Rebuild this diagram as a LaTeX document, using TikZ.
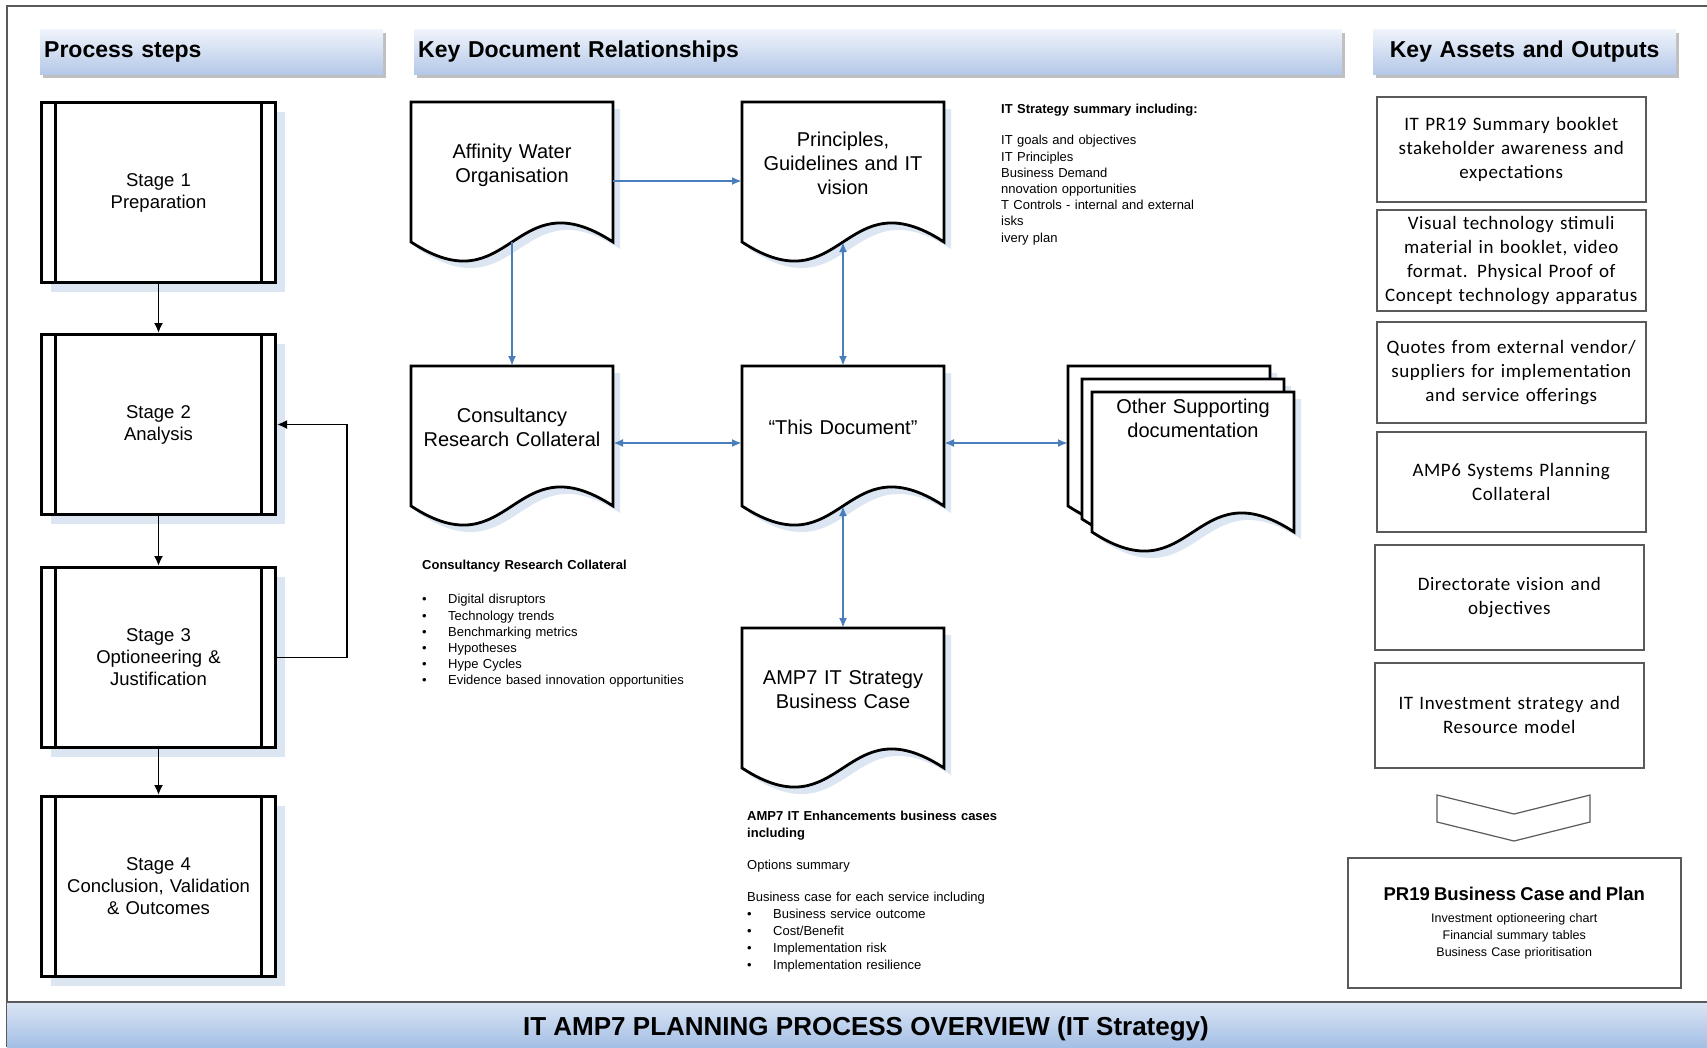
\documentclass[tikz,border=0pt]{standalone}
\usepackage{fontspec}
\setmainfont{Liberation Sans}
\newfontfamily\calibrifont[LetterSpace=3]{Carlito}
\usepackage{tikz}
\usetikzlibrary{positioning,arrows.meta,backgrounds}

\definecolor{linkblue}{HTML}{4A7EBB}
\definecolor{shadeblue}{HTML}{DCE6F2}
\definecolor{bartop}{HTML}{F0F4FB}
\definecolor{barbottom}{HTML}{B4C8E8}
\definecolor{bannertop}{HTML}{DAE5F4}
\definecolor{bannerbottom}{HTML}{A4BFE5}
\definecolor{edgegray}{HTML}{5A5A5A}

\tikzset{
  headbar/.style={anchor=north west, minimum height=45pt, inner xsep=4pt, align=left,
    top color=bartop, bottom color=barbottom, font=\bfseries\fontsize{23pt}{26pt}\selectfont,
    preaction={fill=black!25, transform canvas={shift={(3pt,-4pt)}}}},
  stagebox/.style={anchor=north west, draw, line width=3pt, fill=white, minimum width=234pt,
    minimum height=180pt, inner sep=0pt, text width=200pt, align=center,
    font=\fontsize{18.5pt}{22pt}\selectfont,
    preaction={fill=shadeblue, transform canvas={shift={(9pt,-9pt)}}},
    path picture={\draw[line width=3pt]
      ([xshift=14pt]path picture bounding box.north west) -- ([xshift=14pt]path picture bounding box.south west)
      ([xshift=-14pt]path picture bounding box.north east) -- ([xshift=-14pt]path picture bounding box.south east);}},
  docbox/.style={anchor=north west, minimum width=202pt, minimum height=140pt, inner sep=0pt,
    outer sep=0pt, text width=196pt, align=center, font=\fontsize{20pt}{24pt}\selectfont},
  assetbox/.style={anchor=north west, draw=edgegray, line width=1.5pt, minimum width=269pt,
    inner sep=3pt, text width=262pt, align=center, font=\calibrifont\fontsize{19pt}{24pt}\selectfont},
  planbox/.style={anchor=north west, draw=edgegray, line width=1.5pt, minimum width=333pt,
    minimum height=130pt, inner sep=3pt, text width=326pt, align=center,
    font=\fontsize{12.5pt}{17pt}\selectfont},
  note/.style={anchor=north west, inner sep=0pt, text width=300pt, align=left,
    font=\fontsize{13pt}{16.2pt}\selectfont},
  flow/.style={black, line width=1.8pt, -{Latex[length=10pt,width=9pt]}},
  link/.style={linkblue, line width=2pt, -{Latex[length=10pt,width=8pt]}},
  twoway/.style={link, {Latex[length=10pt,width=8pt]}-{Latex[length=10pt,width=8pt]}}
}

% pushes the text of a sheet upwards
\newcommand{\docdrop}[1]{\rule[-#1]{0pt}{#1}}
% sheet with a wavy lower edge, behind the node text
\newcommand{\docsheet}[1]{%
  \begin{pgfonlayer}{background}
    \fill[shadeblue, transform canvas={shift={(7pt,-7pt)}}] (#1.south west) -- (#1.north west)
      -- (#1.north east) -- (#1.south east) .. controls +(-101,-66) and +(101,66) .. (#1.south west) -- cycle;
    \draw[line width=2.8pt, fill=white] (#1.south west) -- (#1.north west)
      -- (#1.north east) -- (#1.south east) .. controls +(-101,-66) and +(101,66) .. (#1.south west) -- cycle;
  \end{pgfonlayer}}

\begin{document}
\begin{tikzpicture}[x=1pt,y=-1pt]
    \useasboundingbox (0,0) rectangle (1707,1047);

    % frame and title banner
    \draw[edgegray, line width=2pt] (1707,6) -- (7,6) -- (7,1047);
    \shade[top color=bannertop, bottom color=bannerbottom] (7,1002) rectangle (1707,1047);
    \draw[edgegray, line width=2pt] (7,1002) -- (1707,1002);
    \node[font=\bfseries\fontsize{26pt}{28pt}\selectfont] (title) at (866,1029) {IT AMP7 PLANNING PROCESS OVERVIEW (IT Strategy)};

    % column headings
    \node[headbar, text width=335pt] (hdsteps) at (40,29) {Process steps};
    \node[headbar, text width=920pt] (hddocs) at (414,29) {Key Document Relationships};
    \node[headbar, text width=295pt, align=center] (hdassets) at (1373,29) {Key Assets and Outputs};

    % process stages
    \node[stagebox] (s1) at (40,101) {Stage 1\\Preparation};
    \node[stagebox] (s2) at (40,333) {Stage 2\\Analysis};
    \node[stagebox] (s3) at (40,566) {Stage 3\\Optioneering \&\\Justification};
    \node[stagebox] (s4) at (40,795) {Stage 4\\Conclusion, Validation\\\& Outcomes};
    \draw[flow] (s1.south) -- (s2.north);
    \draw[flow] (s2.south) -- (s3.north);
    \draw[flow] (s3.south) -- (s4.north);
    \draw[flow] (s3.east) -- ++(70,0) |- (s2.east);

    % documents
    \node[docbox] (aff) at (411,102) {Affinity Water\\Organisation\docdrop{17pt}};
    \node[docbox] (pri) at (742,102) {Principles,\\Guidelines and IT\\vision\docdrop{17pt}};
    \node[docbox] (cons) at (411,366) {Consultancy\\Research Collateral\docdrop{17pt}};
    \node[docbox] (this) at (742,366) {“This Document”\docdrop{17pt}};
    \node[docbox] (amp) at (742,628) {AMP7 IT Strategy\\Business Case\docdrop{17pt}};
    \node[docbox] (oth1) at (1068,366) {};
    \node[docbox] (oth2) at (1082,379) {};
    \node[docbox] (oth3) at (1092,392) {Other Supporting\\documentation\docdrop{88pt}};
    \foreach \sheet in {aff,pri,cons,this,amp,oth1,oth2,oth3} {\docsheet{\sheet}}

    \draw[link] ([yshift=-9pt]aff.east) -- ([yshift=-9pt]pri.west);
    \draw[link] (aff.south) -- (cons.north);
    \draw[twoway] (pri.south) -- (this.north);
    \draw[twoway] ([yshift=-7pt]cons.east) -- ([yshift=-7pt]this.west);
    \draw[twoway] ([yshift=-7pt]this.east) -- ([yshift=-7pt]oth1.west);
    \draw[twoway] (this.south) -- (amp.north);

    % notes beside the documents
    \node[note] (itsum) at (1001,104) {\textbf{IT Strategy summary including:}\\[15pt]
      IT goals and objectives\\IT Principles\\Business Demand\\nnovation opportunities\\
      T Controls - internal and external\\isks\\ivery plan};
    \node[note] (crcnote) at (422,560) {\textbf{Consultancy Research Collateral}\\[18pt]
      \makebox[26pt][l]{\textbullet}Digital disruptors\\
      \makebox[26pt][l]{\textbullet}Technology trends\\
      \makebox[26pt][l]{\textbullet}Benchmarking metrics\\
      \makebox[26pt][l]{\textbullet}Hypotheses\\
      \makebox[26pt][l]{\textbullet}Hype Cycles\\
      \makebox[26pt][l]{\textbullet}Evidence based innovation opportunities};
    \node[note, font=\fontsize{13pt}{17pt}\selectfont] (ampnote) at (747,811) {\textbf{AMP7 IT Enhancements business cases\\including}\\[15pt]
      Options summary\\[15pt]
      Business case for each service including\\
      \makebox[26pt][l]{\textbullet}Business service outcome\\
      \makebox[26pt][l]{\textbullet}Cost/Benefit\\
      \makebox[26pt][l]{\textbullet}Implementation risk\\
      \makebox[26pt][l]{\textbullet}Implementation resilience};

    % assets and outputs
    \node[assetbox, minimum height=105pt] (a1) at (1376,96) {IT PR19 Summary booklet\\stakeholder awareness and\\expectations};
    \node[assetbox, minimum height=101pt] (a2) at (1376,209) {Visual technology stimuli\\material in booklet, video\\format. Physical Proof of\\Concept technology apparatus};
    \node[assetbox, minimum height=101pt] (a3) at (1376,321) {Quotes from external vendor/\\suppliers for implementation\\and service offerings};
    \node[assetbox, minimum height=100pt] (a4) at (1376,431) {AMP6 Systems Planning\\Collateral};
    \node[assetbox, minimum height=105pt] (a5) at (1374,544) {Directorate vision and\\objectives};
    \node[assetbox, minimum height=105pt] (a6) at (1374,662) {IT Investment strategy and\\Resource model};

    \draw[edgegray, line width=1.2pt] (1437,795) -- (1514,814) -- (1590,795) -- (1590,822) -- (1514,841) -- (1437,822) -- cycle;

    \node[planbox] (plan) at (1347,857) {{\bfseries\fontsize{18.5pt}{22pt}\selectfont PR19 Business Case and Plan}\\[5pt]
      Investment optioneering chart\\Financial summary tables\\Business Case prioritisation};
\end{tikzpicture}
\end{document}
